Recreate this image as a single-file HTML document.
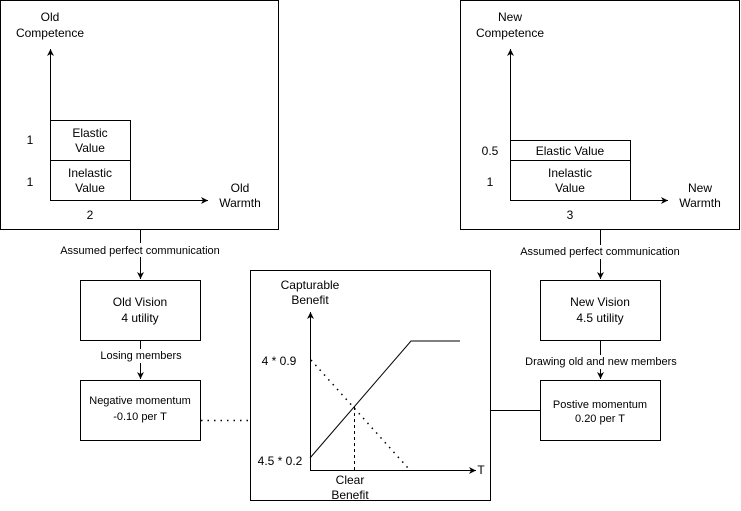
<!DOCTYPE html>
<html><head><style>html,body{margin:0;padding:0;background:#fff}svg{display:block}text{font-family:"Liberation Sans",Arial,sans-serif;fill:#000}</style></head><body>
<svg width="741" height="511" viewBox="0 0 741 511" xmlns="http://www.w3.org/2000/svg">
<defs><marker id="a" markerWidth="8" markerHeight="8" refX="7" refY="4" orient="auto" markerUnits="userSpaceOnUse"><path d="M0,0.5 L7,4 L0,7.5 L2,4 Z" fill="#000"/></marker></defs>
<g fill="none" stroke="#000" stroke-width="1">
<rect x="0.5" y="0.5" width="278" height="229"/>
<rect x="460.5" y="0.5" width="279" height="229"/>
<rect x="250.5" y="270.5" width="240" height="230"/>
<rect x="80.5" y="280.5" width="120" height="60"/>
<rect x="80.5" y="380.5" width="120" height="60"/>
<rect x="540.5" y="280.5" width="120" height="60"/>
<rect x="540.5" y="380.5" width="120" height="60"/>
<rect x="50.5" y="120.5" width="80" height="80"/><line x1="50" y1="160.5" x2="130" y2="160.5"/>
<line x1="50.5" y1="200" x2="50.5" y2="49" marker-end="url(#a)"/>
<line x1="50" y1="200.5" x2="208" y2="200.5" marker-end="url(#a)"/>
<rect x="510.5" y="140.5" width="120" height="60"/><line x1="510" y1="160.5" x2="630" y2="160.5"/>
<line x1="510.5" y1="200" x2="510.5" y2="49" marker-end="url(#a)"/>
<line x1="510" y1="200.5" x2="668" y2="200.5" marker-end="url(#a)"/>
<line x1="140.5" y1="230" x2="140.5" y2="279" marker-end="url(#a)"/>
<line x1="140.5" y1="340" x2="140.5" y2="379" marker-end="url(#a)"/>
<line x1="600.5" y1="230" x2="600.5" y2="279" marker-end="url(#a)"/>
<line x1="600.5" y1="340" x2="600.5" y2="379" marker-end="url(#a)"/>
<line x1="201" y1="420.5" x2="250" y2="420.5" stroke-dasharray="1.5,5" stroke-width="1.5"/>
<line x1="490" y1="410.5" x2="540" y2="410.5"/>
<line x1="310.5" y1="470" x2="310.5" y2="312" marker-end="url(#a)"/>
<line x1="310" y1="470.5" x2="476" y2="470.5" marker-end="url(#a)"/>
<polyline points="310,458 411,341 460,341"/>
<line x1="311" y1="360" x2="408" y2="468" stroke-dasharray="1.5,5" stroke-width="1.5"/>
<line x1="354.5" y1="407" x2="354.5" y2="470" stroke-dasharray="3,3"/>
</g>
<g font-size="12" text-anchor="middle">
<text x="50" y="21">Old</text><text x="50" y="37">Competence</text>
<text x="90" y="137">Elastic</text><text x="90" y="152">Value</text>
<text x="90" y="177">Inelastic</text><text x="90" y="192">Value</text>
<text x="30" y="144">1</text><text x="30" y="186">1</text><text x="90" y="219">2</text>
<text x="240" y="192">Old</text><text x="240" y="207">Warmth</text>
<text x="510" y="21">New</text><text x="510" y="37">Competence</text>
<text x="570" y="155">Elastic Value</text>
<text x="570" y="177">Inelastic</text><text x="570" y="192">Value</text>
<text x="490" y="155">0.5</text><text x="490" y="186">1</text><text x="570" y="219">3</text>
<text x="700" y="192">New</text><text x="700" y="207">Warmth</text>
<text x="140" y="306">Old Vision</text><text x="140" y="322">4 utility</text>
<text x="600" y="306">New Vision</text><text x="600" y="322">4.5 utility</text>
<text x="310" y="289">Capturable</text><text x="310" y="304">Benefit</text>
<text x="279" y="365">4 * 0.9</text><text x="280" y="465">4.5 * 0.2</text>
<text x="481" y="474">T</text>
<text x="350" y="484">Clear</text><text x="350" y="499">Benefit</text>
</g>
<g font-size="11" text-anchor="middle">
<text x="140" y="404">Negative momentum</text><text x="140" y="420">-0.10 per T</text>
<text x="600" y="408">Postive momentum</text><text x="600" y="422">0.20 per T</text>
<rect x="58" y="243" width="165" height="14" fill="#fff"/><text x="140" y="254">Assumed perfect communication</text>
<rect x="518" y="245" width="165" height="14" fill="#fff"/><text x="600" y="255">Assumed perfect communication</text>
<rect x="98" y="349" width="86" height="14" fill="#fff"/><text x="141" y="359">Losing members</text>
<rect x="532" y="355" width="138" height="14" fill="#fff"/><text x="601" y="365">Drawing old and new members</text>
</g>
</svg>
</body></html>
